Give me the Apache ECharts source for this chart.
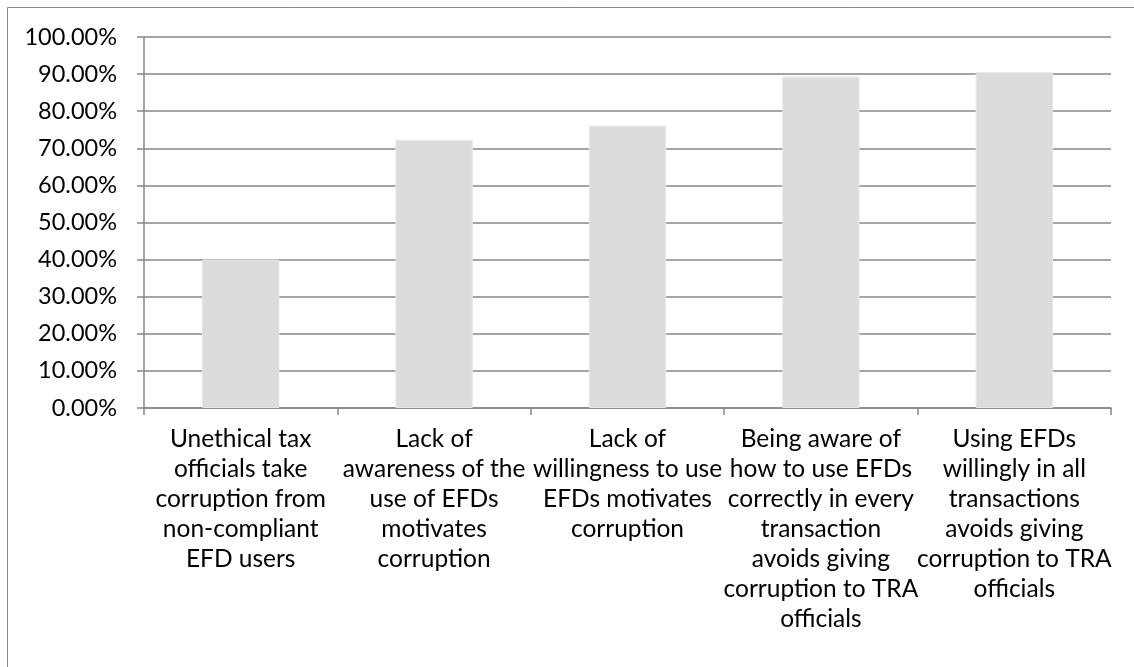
<!DOCTYPE html>
<html>
<head>
<meta charset="utf-8">
<script src="https://cdn.jsdelivr.net/npm/echarts@6/dist/echarts.min.js"></script>
<style>
  html, body { margin: 0; padding: 0; background: #ffffff; }
  #chart { width: 1134px; height: 667px; }
</style>
</head>
<body>
<div id="chart"></div>
<script>
// Survey statements (wrapped onto lines as shown under the axis)
const categories = [
  'Unethical tax\nofficials take\ncorruption from\nnon-compliant\nEFD users',
  'Lack of\nawareness of the\nuse of EFDs\nmotivates\ncorruption',
  'Lack of\nwillingness to use\nEFDs motivates\ncorruption',
  'Being aware of\nhow to use EFDs\ncorrectly in every\ntransaction\navoids giving\ncorruption to TRA\nofficials',
  'Using EFDs\nwillingly in all\ntransactions\navoids giving\ncorruption to TRA\nofficials'
];

// Share of respondents agreeing (fraction of 1)
const agreeShare = [0.400, 0.722, 0.761, 0.893, 0.905];

// Value axis range and step
const yMin = 0;
const yMax = 1;
const yStep = 0.1;

const FONT = 'Lato, "Open Sans", sans-serif';
const LINE = '#878787';

const chart = echarts.init(document.getElementById('chart'), null, { renderer: 'canvas' });

chart.setOption({
  animation: false,
  backgroundColor: '#ffffff',
  graphic: [{
    type: 'rect',
    silent: true,
    shape: { x: 7.5, y: 7.5, width: 1140, height: 680 },
    style: { fill: 'none', stroke: LINE, lineWidth: 1 }
  }],
  grid: { left: 144, right: 23, top: 37, bottom: 259, containLabel: false },
  xAxis: {
    type: 'category',
    data: categories,
    boundaryGap: true,
    axisLine: { show: true, lineStyle: { color: LINE, width: 1.5 } },
    axisTick: { show: true, length: 7, alignWithLabel: false, lineStyle: { color: LINE, width: 1.5 } },
    axisLabel: {
      interval: 0,
      margin: 16,
      color: '#000000',
      fontFamily: FONT,
      fontSize: 24.5,
      lineHeight: 30,
      align: 'center'
    },
    splitLine: { show: false }
  },
  yAxis: {
    type: 'value',
    min: yMin,
    max: yMax,
    interval: yStep,
    axisLine: { show: true, lineStyle: { color: LINE, width: 1.5 } },
    axisTick: { show: true, length: 7, lineStyle: { color: LINE, width: 1.5 } },
    axisLabel: {
      margin: 27,
      color: '#000000',
      fontFamily: FONT,
      fontSize: 23.5,
      formatter: v => (v * 100).toFixed(2) + '%'
    },
    splitLine: { show: true, lineStyle: { color: LINE, width: 1.5 } }
  },
  series: [{
    type: 'bar',
    data: agreeShare,
    barCategoryGap: '60%',
    itemStyle: { color: '#dcdcdc', borderColor: '#e6e6e6', borderWidth: 1 }
  }]
});
</script>
</body>
</html>
